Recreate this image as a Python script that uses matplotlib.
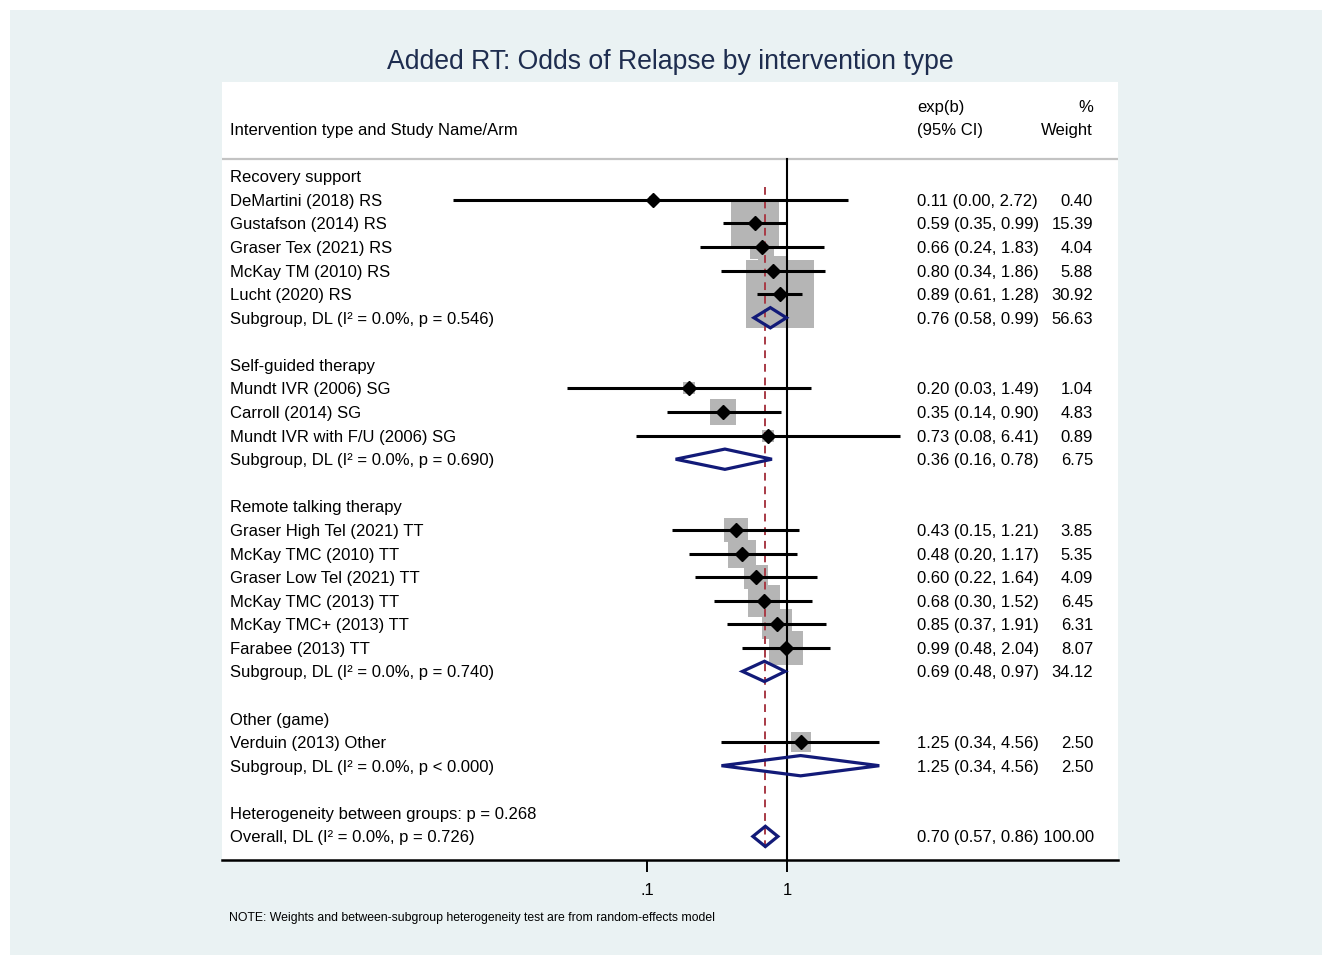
import numpy as np
import matplotlib
matplotlib.use("Agg")
import matplotlib.pyplot as plt
from matplotlib.patches import Rectangle, Polygon
from matplotlib.transforms import blended_transform_factory

plt.rcParams['font.family'] = ['Liberation Sans', 'DejaVu Sans']

# study-level estimates, grouped by intervention type
group_names = ["Recovery support", "Self-guided therapy",
               "Remote talking therapy", "Other (game)"]
study_names = [
    ["DeMartini (2018) RS", "Gustafson (2014) RS", "Graser Tex (2021) RS",
     "McKay TM (2010) RS", "Lucht (2020) RS"],
    ["Mundt IVR (2006) SG", "Carroll (2014) SG", "Mundt IVR with F/U (2006) SG"],
    ["Graser High Tel (2021) TT", "McKay TMC (2010) TT", "Graser Low Tel (2021) TT",
     "McKay TMC (2013) TT", "McKay TMC+ (2013) TT", "Farabee (2013) TT"],
    ["Verduin (2013) Other"],
]
study_or = [[0.11, 0.59, 0.66, 0.80, 0.89],
            [0.20, 0.35, 0.73],
            [0.43, 0.48, 0.60, 0.68, 0.85, 0.99],
            [1.25]]
study_lo = [[0.0041, 0.35, 0.24, 0.34, 0.61],
            [0.027, 0.14, 0.083],
            [0.15, 0.20, 0.22, 0.30, 0.37, 0.48],
            [0.34]]
study_hi = [[2.72, 0.99, 1.83, 1.86, 1.28],
            [1.49, 0.90, 6.41],
            [1.21, 1.17, 1.64, 1.52, 1.91, 2.04],
            [4.56]]
study_wt = [[0.40, 15.39, 4.04, 5.88, 30.92],
            [1.04, 4.83, 0.89],
            [3.85, 5.35, 4.09, 6.45, 6.31, 8.07],
            [2.50]]

# subgroup pooled estimates
sub_or = [0.76, 0.36, 0.69, 1.25]
sub_lo = [0.58, 0.16, 0.48, 0.34]
sub_hi = [0.99, 0.78, 0.97, 4.56]
sub_wt = [56.63, 6.75, 34.12, 2.50]
sub_p = ["p = 0.546", "p = 0.690", "p = 0.740", "p < 0.000"]
sub_i2 = ["0.0%", "0.0%", "0.0%", "0.0%"]

overall = (0.70, 0.57, 0.86, 100.00)
overall_p = "p = 0.726"
between_p = "p = 0.268"

fig = plt.figure(figsize=(13.28, 9.55), dpi=100)
W, H = 1328, 955
fig.patches.append(Rectangle((10 / W, 0), 1312 / W, 945 / H, transform=fig.transFigure,
                             facecolor='#EAF2F3', edgecolor='none', zorder=-10))

ax = fig.add_axes([222 / W, 1 - 860 / H, 896 / W, 778 / H])
ax.set_facecolor('white')
ax.set_xscale('log')
ax.set_xlim(10 ** -4.036, 10 ** 2.364)
ax.set_ylim(29, -4)
for s in ['top', 'left', 'right']:
    ax.spines[s].set_visible(False)
ax.spines['bottom'].set_linewidth(1.8)
ax.set_yticks([])
ax.set_xticks([0.1, 1])
ax.set_xticklabels(['.1', '1'])
ax.minorticks_off()
ax.tick_params(axis='x', length=8.6, width=1.4, pad=8, labelsize=11.9)

tr = blended_transform_factory(ax.transAxes, ax.transData)
fs = 11.95
x_lab, x_ci, x_wt = 0.0089, 0.7757, 0.9721


def put(x, y, s, ha='left'):
    ax.text(x, y, s, transform=tr, fontsize=fs, va='center_baseline', ha=ha)


put(x_lab, -2, "Intervention type and Study Name/Arm")
put(x_ci, -3, "exp(b)")
put(x_ci, -2, "(95% CI)")
put(x_wt, -3, "%", ha='right')
put(x_wt, -2, "Weight", ha='right')
ax.axhline(-0.75, color='#c3c3c3', lw=1.6, zorder=2)

box_px = 12.24  # box side in px per sqrt(weight)
navy = '#121a78'


def diamond(est, lo, hi, y):
    h = 0.43
    ax.add_patch(Polygon([(lo, y), (est, y - h), (hi, y), (est, y + h)], closed=True,
                         fill=False, edgecolor=navy, lw=2.3, joinstyle='miter', zorder=5))


row = 0
for g in range(len(group_names)):
    put(x_lab, row, group_names[g])
    row += 1
    for k, name in enumerate(study_names[g]):
        est, lo, hi, wt = study_or[g][k], study_lo[g][k], study_hi[g][k], study_wt[g][k]
        side = box_px * np.sqrt(wt) * 0.72
        ax.scatter([est], [row], marker='s', s=side ** 2, color='#b5b5b5',
                   linewidths=0, zorder=1)
        ax.plot([lo, hi], [row, row], color='black', lw=2.2, solid_capstyle='butt', zorder=4)
        ax.plot([est], [row], marker='D', color='black', markersize=7, zorder=6)
        put(x_lab, row, name)
        put(x_ci, row, f"{est:.2f} ({lo:.2f}, {hi:.2f})")
        put(x_wt, row, f"{wt:.2f}", ha='right')
        row += 1
    diamond(sub_or[g], sub_lo[g], sub_hi[g], row)
    put(x_lab, row, f"Subgroup, DL (I\u00b2 = {sub_i2[g]}, {sub_p[g]})")
    put(x_ci, row, f"{sub_or[g]:.2f} ({sub_lo[g]:.2f}, {sub_hi[g]:.2f})")
    put(x_wt, row, f"{sub_wt[g]:.2f}", ha='right')
    row += 2

put(x_lab, row, f"Heterogeneity between groups: {between_p}")
row += 1
diamond(overall[0], overall[1], overall[2], row)
put(x_lab, row, f"Overall, DL (I\u00b2 = 0.0%, {overall_p})")
put(x_ci, row, f"{overall[0]:.2f} ({overall[1]:.2f}, {overall[2]:.2f}) {overall[3]:.2f}")

# null line and overall estimate line
ax.plot([1, 1], [-0.75, 29], color='black', lw=1.5, zorder=3)
ax.plot([overall[0], overall[0]], [0.45, 28.5], color='#a83a45', lw=1.4,
        linestyle=(0, (4, 3)), zorder=3)

fig.text(670 / W, 1 - 62 / H, "Added RT: Odds of Relapse by intervention type",
         ha='center', va='center', fontsize=19.2, color='#1e2d4f')
fig.text(229 / W, 1 - 918 / H,
         "NOTE: Weights and between-subgroup heterogeneity test are from random-effects model",
         ha='left', va='center', fontsize=8.8)

fig.savefig("out.png", dpi=100)
